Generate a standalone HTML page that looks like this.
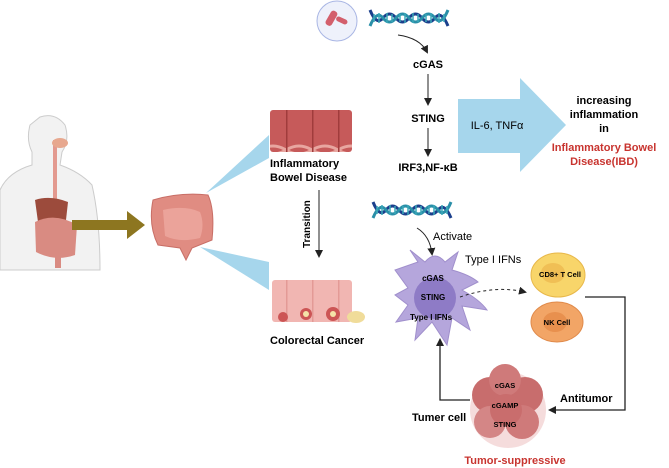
<!DOCTYPE html>
<html><head><meta charset="utf-8"><style>
body{margin:0;background:#fff}
svg{display:block;font-family:"Liberation Sans",sans-serif}
.b{font-weight:bold}
</style></head><body>
<svg width="669" height="468" viewBox="0 0 669 468">
<defs>
<marker id="ah" markerWidth="8" markerHeight="8" refX="6" refY="4" orient="auto" markerUnits="userSpaceOnUse"><path d="M0,0 L8,4 L0,8 Z" fill="#222"/></marker>
<pattern id="fold" width="26" height="50" patternUnits="userSpaceOnUse"><rect width="26" height="50" fill="#c65a5a"/><path d="M0,0 Q13,8 26,0 M0,50 Q13,42 26,50" stroke="#e8a6a0" stroke-width="3" fill="none"/><line x1="0.5" y1="0" x2="0.5" y2="50" stroke="#a03c3c" stroke-width="2"/></pattern>
<pattern id="fold2" width="26" height="50" patternUnits="userSpaceOnUse"><rect width="26" height="50" fill="#f1b6b2"/><line x1="0.5" y1="0" x2="0.5" y2="50" stroke="#e39a96" stroke-width="2"/></pattern>
<g id="dna">
<path d="M0,0 Q6.5,16 13,8 T26,8 T39,8 T52,8 T65,8 T78,16" stroke="#1b3f8c" stroke-width="3" fill="none"/>
<path d="M0,16 Q6.5,0 13,8 T26,8 T39,8 T52,8 T65,8 T78,0" stroke="#2a8fa8" stroke-width="3" fill="none"/>
<path d="M4,4 V12 M9,3 V13 M17,3 V13 M22,4 V12 M30,4 V12 M35,3 V13 M43,3 V13 M48,4 V12 M56,4 V12 M61,3 V13 M69,3 V13 M74,4 V12" stroke="#3aa9b8" stroke-width="1.5"/>
</g>
</defs>

<!-- human -->
<path d="M40,117 Q55,112 65,125 Q70,140 62,152 L60,165 Q80,172 92,185 Q100,220 100,270 L0,270 L0,190 Q8,172 32,165 L32,152 Q26,140 30,125 Z" fill="#f2f2f2" stroke="#ccc"/>
<path d="M55,140 L55,205" stroke="#e39a90" stroke-width="4"/>
<ellipse cx="60" cy="143" rx="8" ry="5" fill="#e7a88f"/>
<path d="M35,200 Q50,195 68,202 L66,220 L38,222 Z" fill="#9c4b3c"/>
<path d="M35,222 Q55,212 77,225 L75,255 Q55,262 36,252 Z" fill="#d98b82"/>
<rect x="55" y="250" width="6" height="18" fill="#d98b82"/>
<path d="M72,220 L127,220 L127,211 L145,225 L127,239 L127,230 L72,230 Z" fill="#8d7620"/>
<path d="M153,200 Q180,192 208,195 Q215,210 212,240 L192,248 L186,260 L180,248 L158,245 Q148,225 153,200 Z" fill="#e08c82" stroke="#c86e66"/>
<path d="M163,210 Q185,205 200,212 Q205,225 200,238 Q180,243 165,236 Z" fill="#eba39a"/>
<path d="M206,193 L269,135 L269,158 Z" fill="#a6d6ec"/>
<path d="M200,247 L269,262 L269,290 Z" fill="#a6d6ec"/>
<rect x="270" y="110" width="82" height="42" fill="url(#fold)" rx="3"/>
<rect x="272" y="280" width="80" height="42" fill="url(#fold2)" rx="3"/>
<circle cx="283" cy="317" r="5" fill="#c55"/><circle cx="306" cy="314" r="6" fill="#c55"/><circle cx="306" cy="314" r="3" fill="#f5e3a8"/><circle cx="333" cy="314" r="7" fill="#c55"/><circle cx="333" cy="314" r="3" fill="#f5e3a8"/><ellipse cx="356" cy="317" rx="9" ry="6" fill="#f0dc9a"/>
<text x="270" y="167" class="b" font-size="11">Inflammatory</text>
<text x="270" y="181" class="b" font-size="11">Bowel Disease</text>
<line x1="319" y1="190" x2="319" y2="256" stroke="#222" marker-end="url(#ah)"/>
<text transform="translate(310,248) rotate(-90)" class="b" font-size="10">Transition</text>
<text x="270" y="344" class="b" font-size="11">Colorectal Cancer</text>

<circle cx="337" cy="21" r="20" fill="#eef1fb" stroke="#a9b6e4"/>
<rect x="328" y="10" width="7" height="16" rx="3" fill="#d35f6c" transform="rotate(30 331 18)"/>
<rect x="336" y="18" width="12" height="5" rx="2.5" fill="#d35f6c" transform="rotate(25 342 20)"/>
<use href="#dna" x="370" y="10"/>
<path d="M398,35 Q420,38 427,52" stroke="#222" fill="none" marker-end="url(#ah)"/>
<text x="428" y="68" class="b" font-size="11" text-anchor="middle">cGAS</text>
<line x1="428" y1="74" x2="428" y2="104" stroke="#222" marker-end="url(#ah)"/>
<text x="428" y="122" class="b" font-size="11" text-anchor="middle">STING</text>
<line x1="428" y1="128" x2="428" y2="155" stroke="#222" marker-end="url(#ah)"/>
<text x="428" y="171" class="b" font-size="11" text-anchor="middle">IRF3,NF-κB</text>
<path d="M458,99 L520,99 L520,78 L566,125 L520,172 L520,153 L458,153 Z" fill="#a6d6ec"/>
<text x="497" y="129" font-size="11" text-anchor="middle">IL-6, TNFα</text>
<text x="604" y="104" class="b" font-size="11" text-anchor="middle">increasing</text>
<text x="604" y="118" class="b" font-size="11" text-anchor="middle">inflammation</text>
<text x="604" y="132" class="b" font-size="11" text-anchor="middle">in</text>
<text x="604" y="151" class="b" font-size="11" text-anchor="middle" fill="#c8342f">Inflammatory Bowel</text>
<text x="604" y="165" class="b" font-size="11" text-anchor="middle" fill="#c8342f">Disease(IBD)</text>

<use href="#dna" x="373" y="202"/>
<path d="M417,228 Q430,236 432,254" stroke="#222" fill="none" marker-end="url(#ah)"/>
<text x="433" y="240" font-size="11">Activate</text>
<path d="M418,262 L410,250 L425,262 Q435,250 445,262 L458,252 L452,270 Q470,275 478,282 L462,290 Q480,300 487,310 L462,306 L470,330 L452,318 L447,345 L432,322 L415,340 L418,318 L396,322 L408,305 L395,295 L408,288 L395,270 Z" fill="#b5a6dc" stroke="#a08fcc"/>
<circle cx="435" cy="298" r="21" fill="#8e7bc6"/>
<text x="433" y="281" class="b" font-size="8" text-anchor="middle">cGAS</text>
<text x="433" y="300" class="b" font-size="8" text-anchor="middle">STING</text>
<text x="431" y="320" class="b" font-size="8" text-anchor="middle">Type I IFNs</text>
<text x="465" y="263" font-size="11">Type I IFNs</text>
<path d="M460,297 Q495,285 525,292" stroke="#222" stroke-dasharray="3,3" fill="none" marker-end="url(#ah)"/>
<ellipse cx="558" cy="275" rx="27" ry="22" fill="#f8d56a" stroke="#e8b84a"/>
<ellipse cx="553" cy="273" rx="12" ry="10" fill="#f0bf55"/>
<text x="560" y="277" class="b" font-size="7.5" text-anchor="middle">CD8+ T Cell</text>
<ellipse cx="557" cy="322" rx="26" ry="20" fill="#f2a566" stroke="#e08a4a"/>
<ellipse cx="555" cy="322" rx="12" ry="10" fill="#e8904e"/>
<text x="557" y="325" class="b" font-size="7.5" text-anchor="middle">NK Cell</text>
<polyline points="585,297 625,297 625,410 550,410" stroke="#222" stroke-width="1.3" fill="none" marker-end="url(#ah)"/>
<text x="560" y="402" class="b" font-size="11">Antitumor</text>
<circle cx="508" cy="410" r="38" fill="#f3d3d3" opacity="0.8"/>
<circle cx="490" cy="395" r="18" fill="#c86d6d"/><circle cx="525" cy="395" r="18" fill="#c86d6d"/>
<circle cx="505" cy="380" r="16" fill="#cf7a7a"/><circle cx="490" cy="422" r="16" fill="#d48686"/><circle cx="522" cy="422" r="17" fill="#cf7a7a"/><circle cx="506" cy="410" r="16" fill="#c96d6d"/>
<text x="505" y="388" class="b" font-size="7.5" text-anchor="middle">cGAS</text>
<text x="505" y="408" class="b" font-size="7.5" text-anchor="middle">cGAMP</text>
<text x="505" y="427" class="b" font-size="7.5" text-anchor="middle">STING</text>
<polyline points="470,400 440,400 440,340" stroke="#222" stroke-width="1.3" fill="none" marker-end="url(#ah)"/>
<text x="412" y="421" class="b" font-size="11">Tumer cell</text>
<text x="515" y="464" class="b" font-size="11" text-anchor="middle" fill="#c8342f">Tumor-suppressive</text>
</svg>
</body></html>
